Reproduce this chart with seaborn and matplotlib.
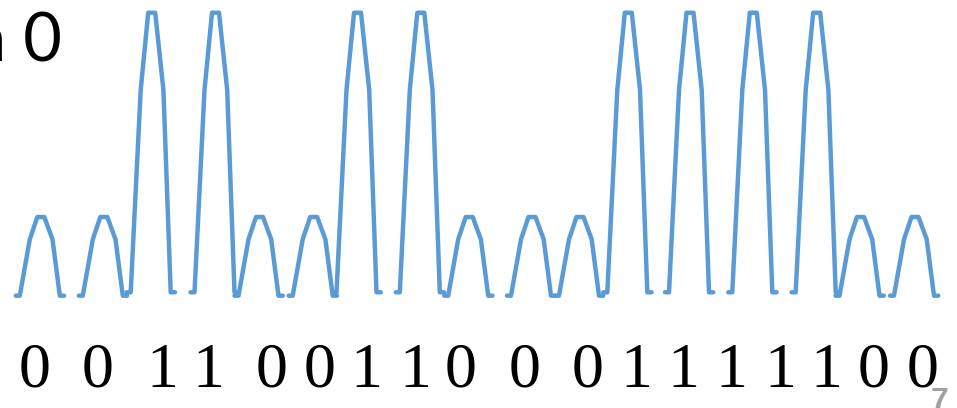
import numpy as np
import pandas as pd
import matplotlib
matplotlib.use("Agg")
import matplotlib.pyplot as plt
import seaborn as sns

# ---- data ----
bits = [0, 0, 1, 1, 0, 0, 1, 1, 0, 0, 0, 1, 1, 1, 1, 0, 0]
pulse_times = [40.8, 103.8, 151.7, 215.5, 259.5, 313.7, 357.5, 420.8, 469.2,
               532.0, 580.0, 628.3, 690.0, 753.3, 816.7, 860.5, 915.0]
shape_offsets = [-25.0, -21.0, -11.0, -3.5, 3.5, 11.7, 19.0, 23.3]
level_one = [0.012, 0.012, 0.727, 1.0, 1.0, 0.727, 0.012, 0.012]
level_zero = [0.0, 0.0, 0.199, 0.278, 0.278, 0.199, 0.0, 0.0]

bit_labels = ['0', '0', '1', '1', '0', '0', '1', '1', '0',
              '0', '0', '1', '1', '1', '1', '1', '0', '0']
label_pos = [35, 97.5, 162, 208.5, 271.7, 320, 366.5, 415, 461,
             525, 588, 636, 683, 731.5, 780, 826.7, 874, 922.5]

rows = []
for i, (b, t) in enumerate(zip(bits, pulse_times)):
    lv = level_one if b else level_zero
    for off, v in zip(shape_offsets, lv):
        rows.append({"pulse": i, "x": t + off, "y": v})
df = pd.DataFrame(rows)

# ---- plot ----
sns.set_theme(style="white")
fig = plt.figure(figsize=(9.57, 4.08), dpi=100)
ax = fig.add_axes([0, 0, 1, 1])
sns.lineplot(data=df, x="x", y="y", units="pulse", estimator=None, sort=False,
             color="#5b9bd5", linewidth=3.2, ax=ax, legend=False)
for line in ax.get_lines():
    line.set_solid_capstyle("round")
    line.set_solid_joinstyle("round")

ax.set_xlim(0, 957)
ax.set_ylim(-0.397, 1.045)
ax.axis("off")

for lab, xp in zip(bit_labels, label_pos):
    ax.text(xp, -0.3216, lab, ha="center", va="baseline",
            fontsize=46, family="Liberation Serif", color="black")

fig.text(62 / 957, 1 - 62 / 408, "n 0", ha="right", va="baseline",
         fontsize=48, family="Lato", color="black")
fig.text(948 / 957, 1 - 410 / 408, "7", ha="right", va="baseline",
         fontsize=23, family="Liberation Sans", fontweight="bold", color="#a0a0a0")

fig.savefig("out.png", dpi=100)
